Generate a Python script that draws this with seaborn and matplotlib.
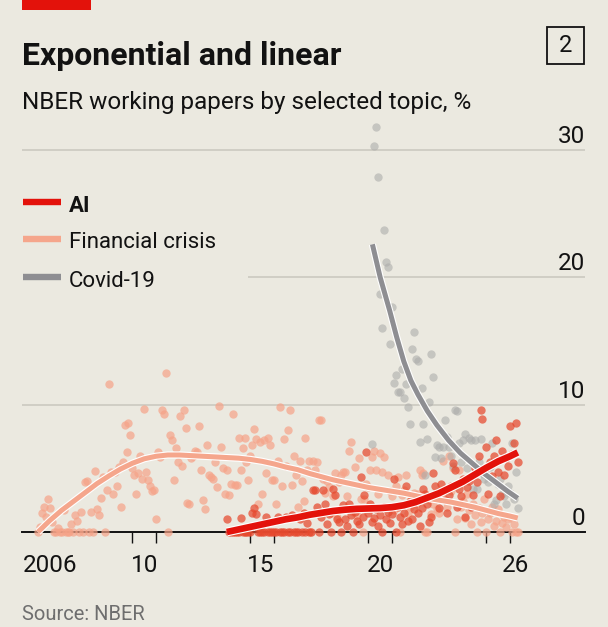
import numpy as np
import pandas as pd
import matplotlib
matplotlib.use('Agg')
import matplotlib.pyplot as plt
import matplotlib.patheffects as pe
from matplotlib.lines import Line2D
from matplotlib.patches import Rectangle
import seaborn as sns

# monthly share of NBER working papers, %
fin_start = 2006.0  # Jan 2006
fin_share = [
    0.0, 0.4, 1.5, 2.0, 1.2, 2.6, 1.9, 0.8, 0.0, 0.0, 0.3, 0.0,    # 2006
    0.0, 1.7, 0.0, 0.0, 0.0, 0.6, 0.0, 1.3, 0.9, 0.0, 1.6, 0.0,    # 2007
    3.9, 4.0, 0.0, 1.6, 0.0, 4.8, 1.8, 1.3, 2.7, 4.3, 0.0, 3.3,    # 2008
    11.6, 4.7, 3.0, 4.7, 3.6, 5.1, 2.0, 5.5, 8.4, 6.3, 8.6, 7.6,   # 2009
    5.0, 4.5, 3.0, 4.6, 6.0, 4.2, 9.7, 4.7, 4.1, 3.6, 3.2, 3.3,    # 2010
    1.0, 6.3, 5.9, 9.6, 9.3, 12.5, 0.0, 7.6, 7.2, 4.1, 6.6, 5.5,   # 2011
    9.1, 5.2, 9.6, 8.2, 2.3, 2.2, 5.8, 6.0, 6.4, 6.3, 8.3, 4.9,    # 2012
    2.5, 1.8, 6.8, 4.5, 4.3, 4.2, 5.5, 3.5, 9.9, 6.7, 5.0, 3.0,    # 2013
    4.9, 2.9, 3.8, 9.3, 3.7, 3.7, 7.4, 4.9, 6.6, 7.4, 5.5, 4.1,    # 2014
    6.0, 6.8, 8.1, 7.3, 2.2, 7.1, 3.0, 7.2, 4.6, 7.4, 6.8, 4.1,    # 2015
    4.1, 2.2, 5.6, 9.8, 3.6, 7.3, 5.2, 8.0, 9.6, 3.7, 6.0, 4.5,    # 2016
    2.0, 5.6, 4.0, 2.4, 7.4, 4.9, 5.6, 0.0, 5.6, 4.9, 5.5, 8.8,    # 2017
    8.8, 4.2, 3.1, 4.0, 3.5, 1.5, 2.8, 4.6, 1.2, 3.9, 4.5, 4.7,    # 2018
    4.7, 2.8, 6.4, 7.1, 1.6, 5.1, 1.3, 5.8, 2.6, 0.0, 2.6, 3.8,    # 2019
    3.5, 4.9, 5.9, 6.4, 4.9, 3.0, 6.2, 4.7, 5.9, 2.0, 4.5, 3.2,    # 2020
    2.8, 1.7, 3.6, 4.3, 0.0, 2.9, 3.3, 4.5, 1.5, 2.0, 2.5, 3.1,    # 2021
    2.2, 3.0, 4.9, 4.5, 4.6, 0.0, 0.0, 2.5, 1.4, 2.2, 3.0, 1.8,    # 2022
    1.5, 2.6, 5.6, 2.5, 2.0, 6.0, 3.2, 5.0, 0.0, 1.0, 4.9, 2.0,    # 2023
    2.4, 1.1, 3.0, 1.7, 0.6, 2.2, 1.3, 0.0, 1.9, 0.8, 1.5, 2.6,    # 2024
    0.0, 1.0, 1.5, 2.0, 0.5, 0.9, 1.8, 0.0, 0.7, 1.2, 0.4, 1.0,    # 2025
    1.2, 0.0, 0.6, 0.0, 0.0,                                       # 2026
]
ai_start = 2014.0  # Jan 2014
ai_share = [
    1.0, 0.0, 0.0, 0.0, 0.0, 0.0, 0.0, 1.1, 0.0, 0.0, 0.0, 0.0,    # 2014
    0.0, 1.5, 1.9, 1.4, 0.0, 0.0, 0.0, 0.0, 1.2, 0.0, 0.0, 0.0,    # 2015
    0.0, 0.0, 1.2, 0.0, 0.0, 0.0, 1.2, 0.0, 0.0, 1.3, 0.0, 0.0,    # 2016
    0.0, 1.0, 0.0, 1.5, 0.0, 0.7, 0.0, 0.0, 3.3, 3.3, 2.0, 0.0,    # 2017
    1.2, 3.3, 2.2, 0.6, 1.4, 0.0, 3.4, 2.9, 1.0, 0.8, 0.0, 2.1,    # 2018
    1.0, 0.5, 2.2, 1.3, 0.0, 1.6, 0.9, 0.6, 4.3, 1.2, 2.9, 6.3,    # 2019
    1.5, 2.2, 0.8, 1.1, 1.8, 0.5, 1.3, 0.0, 2.0, 1.0, 1.6, 0.7,    # 2020
    1.4, 4.2, 0.0, 2.0, 1.2, 0.6, 1.5, 3.6, 0.9, 2.4, 1.0, 1.8,    # 2021
    2.6, 1.5, 0.5, 1.9, 3.4, 3.0, 2.2, 0.8, 1.2, 4.6, 3.6, 2.8,    # 2022
    1.9, 3.8, 3.2, 2.5, 1.5, 2.9, 3.6, 5.4, 4.9, 2.0, 3.4, 2.8,    # 2023
    4.2, 1.2, 3.5, 4.0, 2.0, 2.9, 5.0, 3.9, 6.0, 9.6, 8.9, 4.7,    # 2024
    6.7, 3.0, 5.5, 4.4, 6.0, 7.2, 4.7, 2.8, 6.4, 4.5, 5.8, 5.2,    # 2025
    8.3, 6.1, 7.0, 8.6, 5.5,                                       # 2026
]
covid_start = 2020 + 2 / 12  # Mar 2020
covid_share = [
    6.9, 30.3, 31.8, 27.9, 18.7, 16.0, 23.7, 21.2, 20.8, 14.8,     # 2020
    17.7, 11.7, 12.3, 11.0, 11.0, 12.8, 10.5, 11.6, 9.8, 8.5, 14.4, 15.7,  # 2021
    13.6, 13.4, 7.1, 11.3, 8.5, 4.5, 7.3, 10.2, 14.0, 12.2, 5.9, 6.8,     # 2022
    6.7, 5.8, 6.7, 8.8, 7.5, 6.7, 6.0, 5.2, 9.6, 9.5, 7.0, 5.5,    # 2023
    7.2, 7.7, 5.0, 7.4, 7.2, 3.4, 7.2, 3.4, 5.5, 7.3, 4.6, 4.2,    # 2024
    4.5, 3.9, 5.1, 7.0, 2.2, 2.5, 3.8, 4.2, 3.0, 2.8, 2.2, 3.6,    # 2025
    3.1, 7.0, 2.6, 4.7, 1.9,                                       # 2026
]

# smoothed trend lines
fin_trend_x = [2006.0, 2006.5, 2007.0, 2007.5, 2008.0, 2008.5, 2009.0, 2009.5, 2010.0, 2010.5,
               2011.0, 2011.5, 2012.0, 2012.5, 2013.0, 2013.5, 2014.0, 2014.5, 2015.0, 2015.5,
               2016.0, 2016.5, 2017.0, 2017.5, 2018.0, 2018.5, 2019.0, 2019.5, 2020.0, 2020.5,
               2021.0, 2021.5, 2022.0, 2022.5, 2023.0, 2023.5, 2024.0, 2024.5, 2025.0, 2025.5,
               2026.0, 2026.33]
fin_trend_y = [0.0, 0.9, 1.7, 2.4, 3.1, 3.8, 4.4, 4.95, 5.4, 5.75,
               5.95, 6.05, 6.05, 6.0, 5.95, 5.9, 5.85, 5.8, 5.7, 5.55,
               5.35, 5.1, 4.9, 4.6, 4.35, 4.1, 3.9, 3.7, 3.5, 3.35,
               3.2, 3.05, 2.85, 2.65, 2.5, 2.35, 2.15, 1.95, 1.7, 1.45,
               1.25, 1.1]
ai_trend_x = [2014.0, 2014.5, 2015.0, 2015.5, 2016.0, 2016.5, 2017.0, 2017.5, 2018.0, 2018.5,
              2019.0, 2019.5, 2020.0, 2020.5, 2021.0, 2021.5, 2022.0, 2022.5, 2023.0, 2023.5,
              2024.0, 2024.5, 2025.0, 2025.5, 2026.0, 2026.33]
ai_trend_y = [0.0, 0.2, 0.4, 0.6, 0.8, 1.0, 1.15, 1.35, 1.5, 1.65,
              1.75, 1.82, 1.85, 1.88, 1.95, 2.1, 2.35, 2.7, 3.05, 3.5,
              3.95, 4.5, 5.05, 5.55, 5.95, 6.25]
covid_trend_x = [2020.17, 2020.5, 2020.9, 2021.2, 2021.5, 2021.8, 2022.1, 2022.5, 2022.9, 2023.4,
                 2023.9, 2024.4, 2024.9, 2025.4, 2025.9, 2026.33]
covid_trend_y = [22.6, 20.0, 17.4, 15.3, 13.4, 11.9, 10.8, 9.5, 8.4, 7.2,
                 6.2, 5.4, 4.6, 3.9, 3.2, 2.65]

x_labels = ['2006', '10', '15', '20', '26']
x_label_pos = [2006.5, 2010.5, 2015.45, 2020.5, 2026.25]
year_ticks = list(range(2006, 2027))
tall_ticks = [2010, 2011, 2015, 2016, 2020, 2021, 2025, 2026]
y_ticks = [0, 10, 20, 30]

BG = '#ebe9e0'
RED = '#e3120b'
SALMON = '#f5a68c'
GREY = '#8e8e92'
INK = '#121212'


def monthly(start, vals):
    return pd.DataFrame({'year': start + np.arange(len(vals)) / 12, 'share': vals})


fin_df = monthly(fin_start, fin_share)
ai_df = monthly(ai_start, ai_share)
covid_df = monthly(covid_start, covid_share)

sns.set_theme(style='white')
plt.rcParams['font.family'] = ['Roboto', 'DejaVu Sans']

W, H = 608, 627
fig = plt.figure(figsize=(W / 100, H / 100), dpi=100)
fig.patch.set_facecolor(BG)

x0, x1 = 2006 - 16 / 23.6, 2006 + 547 / 23.6
ax = fig.add_axes([22 / W, (H - 532) / H, 563 / W, (532 - 118.3) / H])
ax.set_facecolor(BG)
ax.set_xlim(x0, x1)
ax.set_ylim(0, 32.5)

# gridlines (the 20 line stops at the key)
ax.hlines([10, 30], x0, x1, color='#c9c7be', lw=1.1, zorder=0)
ax.hlines(20, 2014.9, x1, color='#c9c7be', lw=1.1, zorder=0)

dot = dict(s=36, linewidth=0, legend=False, clip_on=False, ax=ax)
sns.scatterplot(data=fin_df, x='year', y='share', color='#f6a388', alpha=0.7, zorder=2, **dot)
sns.scatterplot(data=covid_df, x='year', y='share', color='#adadab', alpha=0.6, zorder=2, **dot)
sns.scatterplot(data=ai_df, x='year', y='share', color='#e6492e', alpha=0.72, zorder=3, **dot)


def halo(w):
    return [pe.Stroke(linewidth=w + 1.6, foreground='white'), pe.Normal()]


sns.lineplot(x=covid_trend_x, y=covid_trend_y, color=GREY, lw=3.6, ax=ax, zorder=4,
             solid_capstyle='butt', path_effects=halo(3.6), clip_on=False)
sns.lineplot(x=fin_trend_x, y=fin_trend_y, color=SALMON, lw=3.6, ax=ax, zorder=5,
             solid_capstyle='butt', path_effects=halo(3.6), clip_on=False)
sns.lineplot(x=ai_trend_x, y=ai_trend_y, color=RED, lw=4.8, ax=ax, zorder=6,
             solid_capstyle='butt', path_effects=halo(4.8), clip_on=False)

ax.set_xlabel('')
ax.set_ylabel('')
for s in ['top', 'left', 'right']:
    ax.spines[s].set_visible(False)
ax.spines['bottom'].set_color(INK)
ax.spines['bottom'].set_linewidth(1.4)
ax.spines['bottom'].set_zorder(1)

ax.set_xticks(x_label_pos, x_labels)
ax.set_xticks(year_ticks, minor=True)
ax.tick_params(axis='x', which='major', length=0, pad=15.5, labelsize=17.5, labelcolor=INK)
ax.tick_params(axis='x', which='minor', length=4.3, width=1.0, color=INK, direction='out')
ax.tick_params(axis='y', left=False, labelleft=False)

sec = ax.secondary_xaxis('bottom')
sec.set_xticks(tall_ticks, labels=[])
sec.tick_params(length=8, width=1.0, color=INK, direction='out')
for s in sec.spines.values():
    s.set_visible(False)

for v in y_ticks:
    ax.annotate(str(v), xy=(1, v), xycoords=('axes fraction', 'data'), xytext=(0, 5),
                textcoords='offset points', ha='right', va='baseline', fontsize=17.5, color=INK)

# key
keys = [('AI', RED, 202, 211.7, 'bold'),
        ('Financial crisis', SALMON, 239.3, 248.3, 'normal'),
        ('Covid-19', GREY, 277, 286.7, 'normal')]
for label, col, ly, by, wt in keys:
    fig.add_artist(Line2D([23 / W, 61 / W], [(H - ly) / H] * 2, color=col, lw=4.6,
                          solid_capstyle='butt', transform=fig.transFigure))
    fig.text(69 / W, (H - by) / H, label, fontsize=16, fontweight=wt, color=INK, va='baseline')

# header
fig.add_artist(Rectangle((22 / W, (H - 10) / H), 69 / W, 10 / H, color=RED,
                         transform=fig.transFigure, lw=0))
fig.text(22 / W, (H - 65) / H, 'Exponential and linear', fontsize=23, fontweight='bold',
         color=INK, va='baseline')
fig.text(22 / W, (H - 109) / H, 'NBER working papers by selected topic, %', fontsize=17.5,
         color=INK, va='baseline')
fig.add_artist(Rectangle((547 / W, (H - 64) / H), 37 / W, 37 / H, fill=False, ec=INK, lw=1.3,
                         transform=fig.transFigure))
fig.text(565.5 / W, (H - 45.5) / H, '2', fontsize=17, color=INK, ha='center', va='center')

fig.text(22 / W, (H - 620) / H, 'Source: NBER', fontsize=14.5, color='#6e6e6e', va='baseline')

fig.savefig('out.png', dpi=100, facecolor=BG)
